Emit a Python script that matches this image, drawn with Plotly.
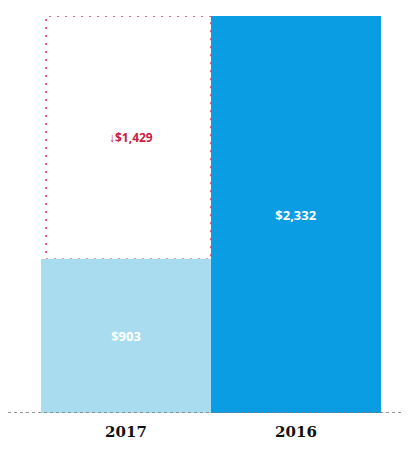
import plotly.graph_objects as go

categories = ["2017", "2016"]
values = [903, 2332]
labels = ["$903", "$2,332"]
colors = ["#aadcf0", "#0a9de4"]
diff_label = "↓$1,429"

x_pos = [0, 1]

fig = go.Figure()
fig.add_trace(go.Bar(
    x=x_pos, y=values, width=[1, 1],
    marker=dict(color=colors, line=dict(width=0)),
    text=labels, textposition="inside", insidetextanchor="middle",
    textfont=dict(color="white", size=13, family="Open Sans", weight="bold"),
    hoverinfo="skip",
))

# dashed difference box above 2017 bar
fig.add_shape(type="rect", xref="x", yref="y",
              x0=-0.47, x1=0.5, y0=values[0], y1=values[1],
              line=dict(color="#d62a4e", width=1.5, dash="2px,6px"), layer="below")
fig.add_annotation(x=0.03, y=(values[0] + values[1]) / 2, text=diff_label,
                   showarrow=False,
                   font=dict(color="#c8213f", size=12, family="Open Sans", weight="bold"))

# baseline
fig.add_shape(type="line", xref="paper", yref="y", x0=0, x1=1, y0=0, y1=0,
              line=dict(color="#777777", width=1.5, dash="dot"))

fig.update_layout(
    width=403, height=444,
    margin=dict(l=0, r=3, t=8, b=39),
    paper_bgcolor="white", plot_bgcolor="white",
    showlegend=False, bargap=0,
    xaxis=dict(range=[-0.694, 1.659], tickmode="array", tickvals=x_pos, ticktext=categories,
               showgrid=False, zeroline=False, showline=False, ticks="",
               ticklabelstandoff=8,
               tickfont=dict(size=15, color="#111111", family="DejaVu Serif", weight="bold")),
    yaxis=dict(range=[0, values[1]], visible=False),
)

fig.write_html("out.html")
